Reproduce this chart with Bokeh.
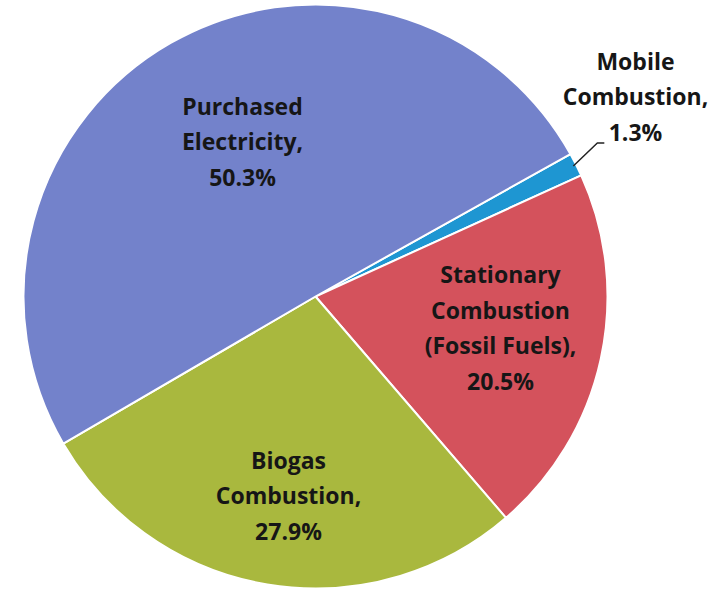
import math
from bokeh.plotting import figure
from bokeh.models import ColumnDataSource, Range1d
from bokeh.core.properties import value
from bokeh.embed import file_html
from bokeh.resources import INLINE

# ---- data ----
categories = ["Mobile\nCombustion,\n1.3%",
              "Stationary\nCombustion\n(Fossil Fuels),\n20.5%",
              "Biogas\nCombustion,\n27.9%",
              "Purchased\nElectricity,\n50.3%"]
shares = [1.3, 20.5, 27.9, 50.3]
colors = ["#1E96D2", "#D4525C", "#A9B83E", "#7382CB"]

# ---- layout (pixels) ----
W, H = 726, 594
CX, CY = 315, 298          # pie centre (data units = px, y up)
R = 292
START_DEG = 29.2            # slices go clockwise from here

p = figure(width=W, height=H, output_backend="svg", toolbar_location=None,
           x_range=Range1d(0, W), y_range=Range1d(0, H),
           min_border=0, outline_line_color=None)
p.axis.visible = False
p.grid.visible = False
p.background_fill_color = "white"

total = sum(shares)
ends, starts = [], []
a = math.radians(START_DEG)
for s in shares:
    sweep = 2 * math.pi * s / total
    ends.append(a)
    starts.append(a - sweep)
    a -= sweep

src = ColumnDataSource(dict(x=[CX] * 4, y=[CY] * 4, start=starts, end=ends, color=colors))
p.wedge(x="x", y="y", radius=R, start_angle="start", end_angle="end",
        fill_color="color", line_color="white", line_width=2, source=src)

# label positions (offsets from centre, px)
label_dx = [320, 185, -27, -73]
label_dy = [200, -31, -199, 155]
lx = [CX + d for d in label_dx]
ly = [CY + d for d in label_dy]
p.text(x=lx, y=ly, text=categories, text_align="center", text_baseline="middle",
       text_font=value("Open Sans"), text_font_style="bold", text_font_size="23px",
       text_line_height=1.12, text_color="#161616")

# leader line for the small slice
mid = (starts[0] + ends[0]) / 2
x0 = CX + (R - 3) * math.cos(mid)
y0 = CY + (R - 3) * math.sin(mid)
p.line(x=[x0, x0 + 24, x0 + 31], y=[y0, y0 + 23, y0 + 23], line_color="#222222", line_width=1.5)

open("out.html", "w").write(file_html(p, INLINE))
